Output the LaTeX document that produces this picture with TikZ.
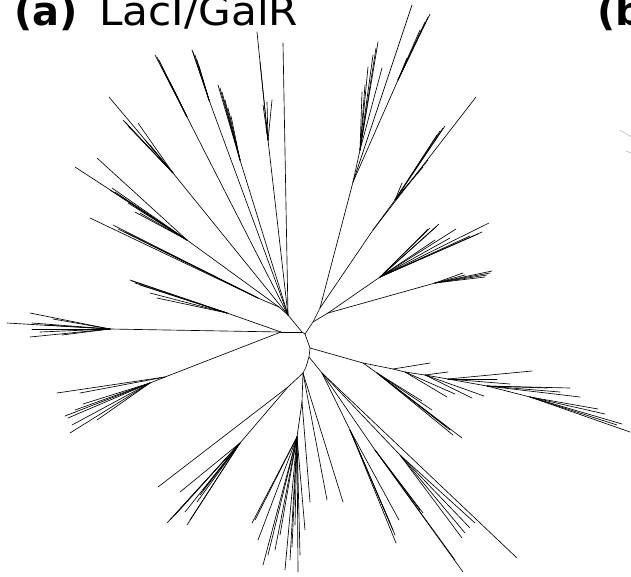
\documentclass[tikz,border=0pt]{standalone}
\usepackage{fontspec}
\setmainfont{DejaVu Sans}
\newcommand\tipfan[2]{\foreach \xx/\yy in {#2} {\draw[br] (#1) -- (\xx,\yy);}}
\begin{document}
\begin{tikzpicture}[x=1pt,y=-1pt,
  br/.style={line width=0.65pt, black, line cap=round},
  ttl/.style={anchor=base west, inner sep=0pt, font=\fontsize{40}{48}\selectfont}]
\useasboundingbox (0,0) rectangle (631,576);
\clip (0,0) rectangle (631,576);
% titles
\node[ttl] (ta) at (14,25) {\textbf{(a)}};
\node[ttl, xscale=1.055] (tl) at (99,25) {LacI/GalR};
\node[ttl] (tb) at (597,25) {\textbf{(b)}};
% faint lines of panel (b)
\draw[gray!55, line width=0.6pt] (620,130) -- (631,137);
\draw[gray!55, line width=0.6pt] (626,151) -- (631,153);
% internal nodes
\coordinate (c0) at (302,332);
\coordinate (c1) at (305,334);
\coordinate (c2) at (310,348);
\coordinate (c3) at (309,357);
\coordinate (c4) at (306,367);
\coordinate (c5) at (303,373);
\coordinate (L) at (281,332);
\coordinate (ul) at (288,315);
\coordinate (ul2) at (279,307);
\coordinate (ur) at (313,322);
\coordinate (t12) at (320,308);
\coordinate (t34) at (328,313);
\draw[br] (ul) -- (c0) -- (c1) -- (c2) -- (c3) -- (c4) -- (c5);
\draw[br] (c0) -- (L);
\draw[br] (ul) -- (ul2);
\draw[br] (c1) -- (ur) -- (t12);
\draw[br] (ur) -- (t34);
% ---- upper left
\draw[br] (ul) -- (283,43);
\coordinate (nut) at (268,140);
\draw[br] (ul) -- (nut);
\tipfan{nut}{257/32, 260/62, 263/105, 267/102, 272/100, 266/127}
\coordinate (nu1) at (209,100);
\draw[br] (ul) -- (nu1);
\tipfan{nu1}{192/50, 193/52, 195/55, 197/60, 199/66}
\coordinate (nu1b) at (240,160);
\draw[br] (ul) -- (nu1b);
\tipfan{nu1b}{218/85, 220/88, 222/92, 225/100, 228/108, 231/116}
\coordinate (nu2) at (187,117);
\draw[br] (ul) -- (nu2);
\tipfan{nu2}{155/55, 157/57, 159/60, 162/67, 166/75, 170/82, 175/92}
\coordinate (nu3) at (173,173);
\draw[br] (ul) -- (nu3);
\tipfan{nu3}{109/97, 123/120, 125/122, 128/126, 138/123, 145/140, 150/145}
\coordinate (nu4) at (187,240);
\draw[br] (ul2) -- (nu4);
\tipfan{nu4}{75/167, 97/158, 110/190, 112/188, 115/192, 120/196, 128/203, 135/212, 140/213}
\coordinate (nu5) at (258,298);
\draw[br] (ul2) -- (nu5);
\tipfan{nu5}{90/218, 113/225, 118/229, 125/232}
\coordinate (nu6) at (227,313);
\draw[br] (L) -- (nu6);
\tipfan{nu6}{130/280, 132/281, 135/283, 140/285, 150/293, 157/298}
% ---- left
\coordinate (nw1) at (110,329);
\draw[br] (L) -- (nw1);
\tipfan{nw1}{7/323, 30/313, 30/337, 32/323, 32/329, 45/325, 40/332, 53/319, 62/335}
\coordinate (nw2) at (165,377);
\draw[br] (L) -- (nw2);
\tipfan{nw2}{57/393, 80/393}
\coordinate (nw2b) at (150,383);
\draw[br] (nw2) -- (nw2b);
\tipfan{nw2b}{65/416, 68/418, 70/433, 72/425, 75/410, 83/404, 97/420}
% ---- upper right
\coordinate (nt1) at (353,182);
\draw[br] (t12) -- (nt1);
\draw[br] (nt1) -- (412,5);
\coordinate (nt1b) at (398,80);
\draw[br] (nt1) -- (nt1b);
\tipfan{nt1b}{430/14, 428/17, 425/22, 420/30, 410/55, 407/58}
\coordinate (nt1c) at (360,150);
\draw[br] (nt1) -- (nt1c);
\tipfan{nt1c}{378/42, 376/48, 373/55, 368/67, 382/68, 365/85, 362/92}
\coordinate (nt2) at (373,230);
\draw[br] (t12) -- (nt2);
\draw[br] (nt2) -- (476,97);
\coordinate (nt2b) at (395,200);
\draw[br] (nt2) -- (nt2b);
\tipfan{nt2b}{445/126, 443/128, 440/131, 437/135, 428/160, 423/167, 402/183}
\coordinate (nt3) at (380,277);
\draw[br] (t34) -- (nt3);
\tipfan{nt3}{428/229, 430/228, 439/224, 437/226, 456/229, 489/223, 482/232, 478/234, 470/236, 450/238, 435/240}
\coordinate (nt4) at (435,283);
\draw[br] (t34) -- (nt4);
\tipfan{nt4}{492/271, 490/273, 487/275, 485/277, 463/273, 465/275}
% ---- right
\coordinate (r1) at (363,363);
\coordinate (r2) at (393,369);
\coordinate (r3) at (405,372);
\coordinate (r4) at (425,375);
\coordinate (r5) at (448,379);
\coordinate (r6) at (487,386);
\coordinate (r7) at (530,397);
\draw[br] (c2) -- (r1) -- (r2) -- (r3) -- (r4) -- (r5) -- (r6) -- (r7);
\tipfan{r2}{430/363}
\tipfan{r3}{447/397, 455/394}
\tipfan{r4}{448/372, 472/398, 484/396}
\tipfan{r5}{532/371, 497/379, 510/384}
\tipfan{r6}{570/388, 580/397, 547/388, 560/392}
\tipfan{r7}{598/409, 622/424, 630/432, 617/425, 605/414}
\coordinate (rd) at (377,373);
\draw[br] (r1) -- (rd);
\tipfan{rd}{422/401, 432/410, 447/427, 450/430, 453/435, 462/438}
% ---- lower right
\coordinate (d1) at (322,373);
\draw[br] (c3) -- (d1);
\draw[br] (d1) -- (517,558);
\coordinate (d2) at (400,455);
\draw[br] (d1) -- (d2);
\tipfan{d2}{462/538, 465/533, 470/528, 475/523}
\coordinate (d3) at (375,450);
\draw[br] (d1) -- (d3);
\tipfan{d3}{420/510, 423/513, 455/560, 463/572}
\coordinate (d4) at (350,430);
\draw[br] (d1) -- (d4);
\tipfan{d4}{390/523, 393/530, 395/535, 396/543, 399/520}
% ---- bottom
\draw[br] (c5) -- (343,502);
\draw[br] (c5) -- (327,500);
\coordinate (c6) at (302,402);
\coordinate (c7) at (297,437);
\draw[br] (c5) -- (c6) -- (c7);
\draw[br] (c6) -- (310,502);
\tipfan{c7}{252/523, 255/520, 258/540, 263/565, 268/555, 275/550, 280/535, 285/570, 290/560, 292/547, 295/525, 298/572, 300/555, 305/530}
% ---- lower left
\coordinate (nl1) at (288,387);
\coordinate (nl2) at (240,443);
\draw[br] (c5) -- (nl1) -- (nl2);
\draw[br] (nl1) -- (158,487);
\tipfan{nl2}{167/523, 170/520, 175/515, 180/492, 185/512, 187/525, 190/520, 197/502, 200/495, 203/490}
\end{tikzpicture}
\end{document}
